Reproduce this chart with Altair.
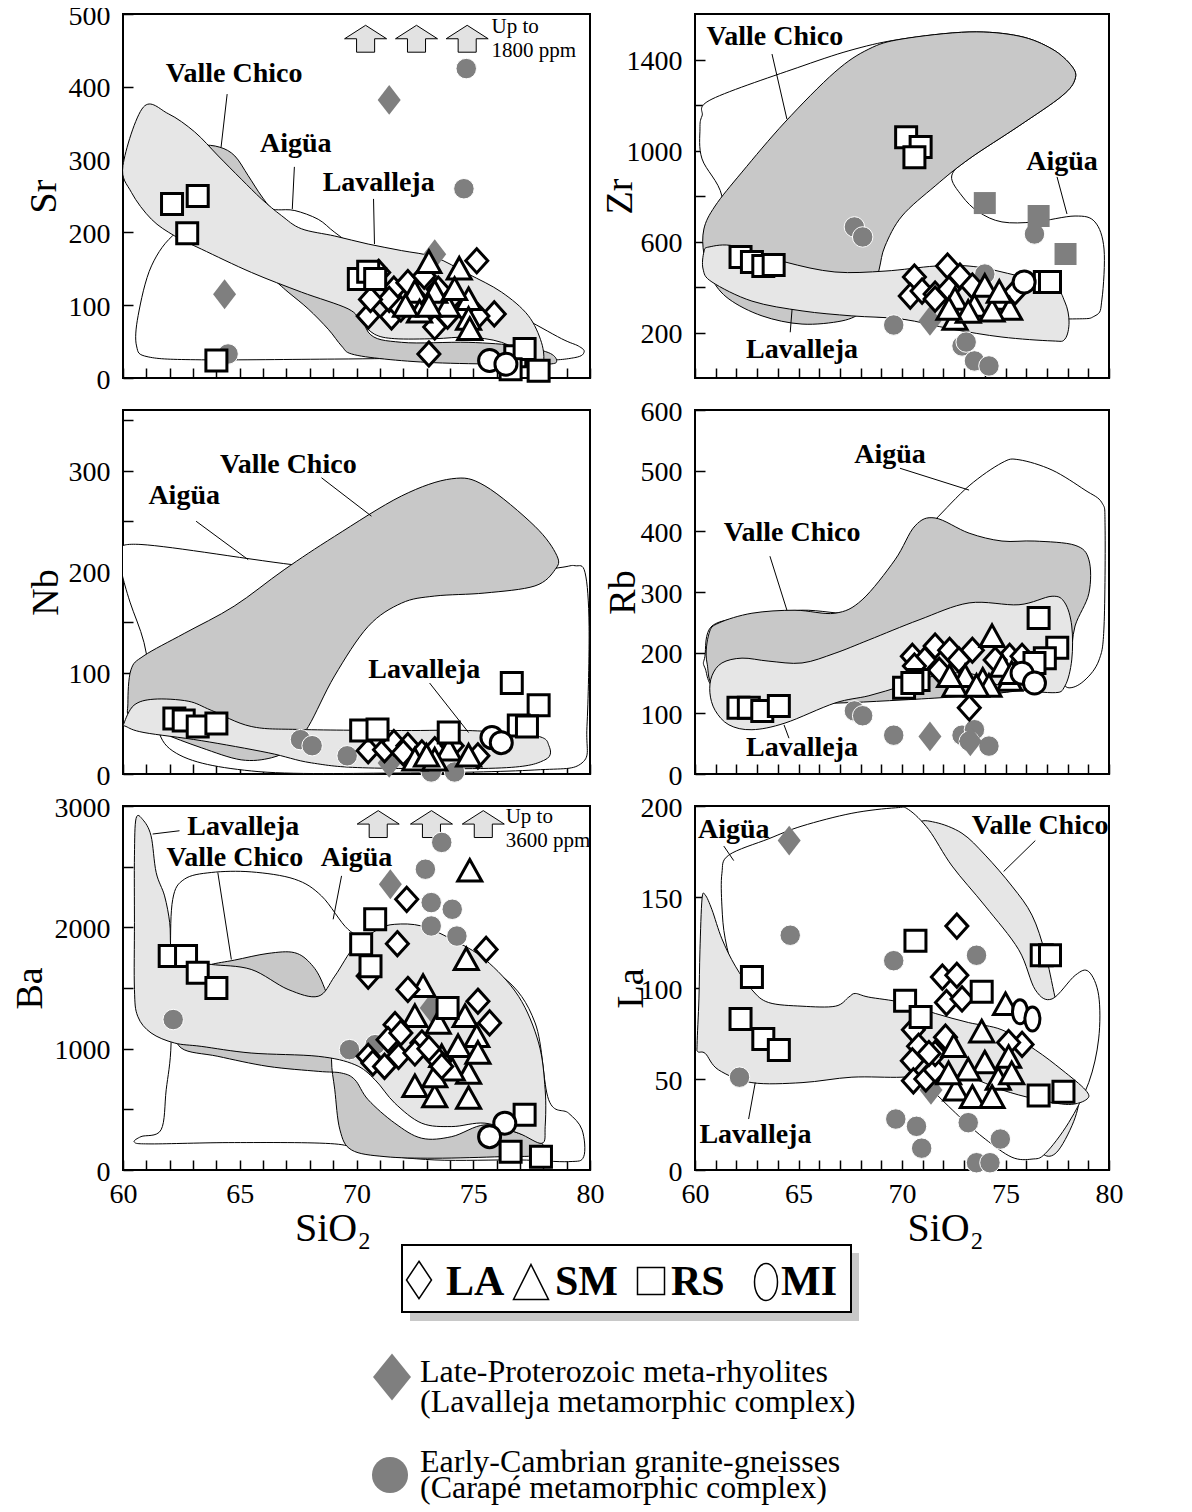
import altair as alt
import pandas as pd

FONT = "Liberation Serif"
W_L, W_R, H = 467, 414, 364
FILL_VC = "#c8c8c8"
FILL_LAV = "#e6e6e6"
FILL_AIG = "#ffffff"
SYM_GRAY = "#7f7f7f"
ARROW_FILL = "#e2e2e2"

X_TICKS = list(range(60, 81))
X_LABELED = [60, 65, 70, 75, 80]
SIO2 = "SiO\u2082"

# ---------------- Sr ----------------
SR_Y_TICKS = [0, 100, 200, 300, 400, 500]
SR_AIG_X = [66.65, 67.36, 68.36, 69.07, 69.93, 71.93, 74.78, 76.93, 78.78, 79.5, 79.75, 79.35, 77.64, 73.35, 69.07, 63.36, 61.08, 60.58, 60.65, 61.22, 62.29, 64.08, 65.5, 66.22]
SR_AIG_Y = [231, 230, 218, 200, 182, 154, 118, 86, 54, 44, 36, 28, 24, 27, 26, 25, 29, 44, 86, 154, 200, 228, 237, 232]
SR_VC_X = [63.36, 64.15, 64.79, 65.36, 65.93, 66.5, 67.64, 69.07, 70.21, 70.5, 71.93, 74.78, 76.93, 78.21, 78.57, 78.21, 76.21, 73.35, 71.21, 69.79, 69.36, 68.79, 67.93, 67.07, 66.22, 64.79, 63.36, 62.65, 62.93]
SR_VC_Y = [319, 317, 305, 278, 250, 228, 200, 163, 118, 63, 49, 49, 44, 35, 24, 19, 19, 21, 26, 33, 44, 67, 95, 118, 141, 173, 209, 264, 305]
SR_LAV_X = [60.0, 60.87, 61.94, 63.07, 64.08, 65.07, 65.93, 66.79, 67.64, 69.07, 70.5, 71.93, 73.35, 74.78, 76.21, 77.35, 77.92, 78.0, 77.64, 76.21, 74.78, 73.35, 71.64, 70.78, 70.21, 69.64, 67.64, 65.5, 63.36, 62.22, 61.22, 60.36]
SR_LAV_Y = [292, 372, 363, 338, 305, 273, 246, 223, 205, 195, 184, 175, 166, 143, 118, 86, 49, 22, 26, 49, 56, 54, 54, 60, 77, 95, 118, 145, 177, 195, 218, 255]
SR_LBL = ["Valle Chico", "Aigüa", "Lavalleja"]
SR_LBL_X = [64.76, 67.4, 70.95]
SR_LBL_Y = [418, 321, 268]
SR_LEAD_X = [64.46, 67.34, 70.73]
SR_LEAD_Y = [390, 290, 246]
SR_LEAD_X2 = [64.2, 67.25, 70.77]
SR_LEAD_Y2 = [317, 232, 184]
SR_ARROW_X = [70.39, 72.57, 74.74]
SR_ARROW_Y = [466, 466, 466]
SR_UP = ["Up to", "1800 ppm"]
SR_UP_X = [75.78, 75.78]
SR_UP_Y = [482, 449]
SR_RS_X = [62.1, 63.2, 62.75, 64.0, 70.1, 70.5, 70.8, 76.8, 77.2, 76.6, 77.8]
SR_RS_Y = [239, 250, 199, 24, 136, 146, 136, 30, 40, 12, 10]
SR_MI_X = [75.7, 76.4]
SR_MI_Y = [24, 19]
SR_LA_X = [75.15, 73.1, 73.35, 70.5, 71.5, 75.9, 70.95, 71.6, 71.4, 71.9, 72.2, 72.6, 73.5, 73.9, 74.6, 75.2, 72.9, 70.6]
SR_LA_Y = [161, 33, 70, 85, 84, 88, 145, 122, 108, 95, 131, 108, 122, 85, 95, 85, 140, 108]
SR_SM_X = [73.1, 74.4, 72.5, 74.8, 72.7, 73.9, 74.8, 74.85, 73.35, 74.2, 72.1, 73.1]
SR_SM_Y = [159, 150, 118, 108, 91, 99, 81, 67, 118, 122, 99, 99]
SR_GD_X = [71.4, 64.35, 73.35]
SR_GD_Y = [382, 115, 170]
SR_GC_X = [74.7, 74.6, 64.5]
SR_GC_Y = [425, 260, 33]

# ---------------- Zr ----------------
ZR_Y_TICKS = [200, 400, 600, 800, 1000, 1200, 1400]
ZR_Y_LABELED = [200, 600, 1000, 1400]
ZR_AIG_X = [61.3, 60.34, 60.24, 60.34, 60.82, 65.17, 67.73, 70.0, 73.24, 75.65, 77.25, 78.2, 78.36, 77.73, 75.65, 73.24, 72.4, 72.9, 73.7, 74.83, 76.42, 78.36, 79.32, 79.76, 79.66, 79.32, 77.73, 70.0, 65.17, 61.3]
ZR_AIG_Y = [800, 963, 1095, 1152, 1226, 1371, 1446, 1490, 1521, 1503, 1446, 1371, 1314, 1240, 1108, 963, 888, 800, 730, 686, 686, 712, 686, 567, 347, 273, 259, 259, 347, 567]
ZR_VC_X = [60.43, 60.97, 62.27, 64.35, 66.76, 68.4, 70.0, 73.24, 75.65, 77.25, 78.2, 78.36, 77.73, 75.65, 73.24, 71.6, 70.0, 69.18, 68.9, 68.55, 68.07, 67.1, 65.17, 63.24, 61.64, 60.82, 60.43]
ZR_VC_Y = [655, 756, 905, 1125, 1345, 1446, 1490, 1521, 1503, 1446, 1371, 1314, 1240, 1108, 963, 844, 712, 580, 479, 347, 290, 251, 237, 273, 347, 435, 545]
ZR_LAV_X = [60.43, 60.68, 61.93, 64.35, 66.76, 69.18, 71.6, 73.24, 74.83, 77.25, 77.87, 78.07, 77.87, 77.25, 74.83, 72.4, 70.0, 67.58, 65.17, 62.75, 60.82, 60.39]
ZR_LAV_Y = [554, 576, 580, 510, 466, 470, 492, 492, 466, 404, 334, 246, 171, 163, 180, 215, 259, 273, 295, 338, 422, 479]
ZR_LBL = ["Valle Chico", "Aigüa", "Lavalleja"]
ZR_LBL_X = [63.86, 77.73, 65.17]
ZR_LBL_Y = [1499, 949, 123]
ZR_LEAD_X = [63.72, 77.49, 64.6]
ZR_LEAD_Y = [1424, 884, 201]
ZR_LEAD_X2 = [64.44, 77.97, 64.69]
ZR_LEAD_Y2 = [1138, 721, 303]
ZR_RS_X = [70.2, 70.9, 70.6, 62.2, 62.75, 63.3, 63.8, 76.9, 77.15]
ZR_RS_Y = [1058, 1015, 970, 532, 510, 492, 497, 422, 422]
ZR_MI_X = [75.9]
ZR_MI_Y = [422]
ZR_LA_X = [70.6, 72.2, 72.8, 70.4, 70.97, 71.6, 73.4, 72.27, 75.46, 71.6]
ZR_LA_Y = [444, 492, 448, 360, 382, 369, 404, 391, 378, 347]
ZR_SM_X = [72.56, 74.0, 74.83, 73.5, 72.56, 75.2, 74.35, 73.2, 72.27, 74.7]
ZR_SM_Y = [259, 404, 347, 316, 347, 303, 295, 290, 303, 378]
ZR_GS_X = [74.0, 76.6, 77.9]
ZR_GS_Y = [769, 712, 545]
ZR_GC_X = [67.7, 68.1, 76.4, 69.6, 72.9, 73.1, 73.5, 74.2, 74.0]
ZR_GC_Y = [664, 620, 633, 233, 141, 158, 75, 53, 457]
ZR_GD_X = [71.35]
ZR_GD_Y = [251]

# ---------------- Nb ----------------
NB_Y_TICKS = [0, 50, 100, 150, 200, 250, 300, 350]
NB_Y_LABELED = [0, 100, 200, 300]
NB_AIG_X = [59.9, 60.77, 67.64, 71.93, 76.22, 78.67, 79.36, 79.79, 79.96, 79.87, 79.66, 77.64, 71.93, 65.5, 62.0, 61.3, 60.9, 60.3, 59.95]
NB_AIG_Y = [216, 227, 206, 199, 197, 204, 206, 199, 146, 47, 11, 4, 1, 3, 25, 80, 130, 170, 199]
NB_VC_X = [60.21, 60.34, 60.9, 62.62, 64.76, 66.9, 69.06, 71.93, 74.08, 75.5, 77.64, 78.58, 78.5, 77.64, 75.5, 73.35, 71.93, 70.5, 69.06, 67.94, 67.2, 66.35, 65.06, 63.35, 61.63, 60.34]
NB_VC_Y = [70, 103, 117, 139, 166, 202, 235, 275, 292, 285, 245, 216, 202, 186, 179, 176, 169, 146, 97, 47, 26, 16, 14, 26, 41, 55]
NB_LAV_X = [60.04, 60.47, 61.33, 62.79, 63.78, 65.49, 67.64, 71.93, 74.8, 77.64, 78.24, 78.07, 76.2, 70.5, 68.07, 66.22, 63.35, 60.9, 60.13]
NB_LAV_Y = [50, 68, 74, 72, 63, 47, 44, 43, 43, 38, 28, 14, 6, 6, 11, 21, 33, 41, 47]
NB_LBL = ["Valle Chico", "Aigüa", "Lavalleja"]
NB_LBL_X = [67.08, 62.62, 72.9]
NB_LBL_Y = [306, 275, 103]
NB_LEAD_X = [68.5, 63.13, 73.13]
NB_LEAD_Y = [293, 250, 90]
NB_LEAD_X2 = [70.64, 65.36, 74.8]
NB_LEAD_Y2 = [255, 212, 41]
NB_RS_X = [62.2, 62.6, 63.2, 64.0, 70.2, 70.9, 73.95, 76.65, 77.8, 76.95, 77.3]
NB_RS_Y = [55, 53, 47, 50, 43, 44, 41, 90, 68, 48, 47]
NB_MI_X = [75.8, 76.2]
NB_MI_Y = [36, 31]
NB_LA_X = [70.5, 71.2, 71.6, 72.2, 72.8, 73.35, 74.1, 75.2, 72.0]
NB_LA_Y = [23, 24, 31, 28, 21, 24, 28, 18, 21]
NB_SM_X = [72.5, 73.95, 74.8, 73.35, 73.0]
NB_SM_Y = [14, 24, 18, 14, 18]
NB_GC_X = [67.6, 68.1, 69.6, 73.2, 74.2]
NB_GC_Y = [34, 28, 18, 2, 2]
NB_GD_X = [71.4]
NB_GD_Y = [11]

# ---------------- Rb ----------------
RB_Y_TICKS = [0, 100, 200, 300, 400, 500, 600]
RB_AIG_X = [60.48, 60.82, 62.75, 65.17, 67.58, 68.4, 69.66, 70.63, 71.6, 73.24, 74.83, 75.65, 77.25, 78.84, 79.66, 79.81, 79.76, 79.52, 78.84, 78.07, 77.25, 74.83, 70.0, 65.17, 61.3, 60.48]
RB_AIG_Y = [194, 244, 260, 270, 265, 287, 343, 386, 419, 475, 513, 518, 501, 468, 447, 409, 244, 188, 155, 142, 155, 134, 125, 117, 134, 175]
RB_VC_X = [60.68, 61.16, 62.75, 64.83, 66.76, 68.07, 69.66, 70.63, 71.6, 73.24, 74.83, 76.42, 78.36, 79.03, 79.03, 78.36, 78.07, 77.25, 74.83, 70.0, 65.17, 61.3, 60.58]
RB_VC_Y = [232, 249, 265, 270, 265, 287, 353, 409, 422, 397, 384, 384, 377, 353, 298, 244, 188, 150, 134, 122, 117, 134, 183]
RB_LAV_X = [60.82, 61.3, 62.27, 63.57, 65.17, 66.76, 68.4, 70.82, 73.24, 75.65, 77.25, 77.87, 78.2, 78.2, 77.87, 77.25, 74.83, 73.24, 71.6, 70.0, 68.4, 66.76, 64.35, 62.75, 61.64, 60.97, 60.72]
RB_LAV_Y = [162, 183, 191, 186, 183, 199, 221, 254, 282, 279, 293, 282, 244, 188, 145, 134, 145, 166, 162, 145, 129, 117, 84, 73, 81, 105, 134]
RB_LBL = ["Aigüa", "Valle Chico", "Lavalleja"]
RB_LBL_X = [69.42, 64.69, 65.17]
RB_LBL_Y = [526, 397, 43]
RB_LEAD_X = [69.9, 63.62, 64.54]
RB_LEAD_Y = [504, 359, 59]
RB_LEAD_X2 = [73.24, 64.44, 64.3]
RB_LEAD_Y2 = [468, 270, 81]
RB_RS_X = [62.1, 62.6, 63.25, 64.05, 76.6, 77.5, 76.9, 76.4, 70.1, 70.8, 70.5]
RB_RS_Y = [109, 109, 104, 112, 257, 208, 191, 183, 142, 155, 150]
RB_MI_X = [75.8, 76.4]
RB_MI_Y = [166, 150]
RB_LA_X = [70.5, 71.6, 72.3, 73.4, 72.75, 71.8, 73.25, 75.2, 75.8, 71.1, 70.6, 74.5]
RB_LA_Y = [194, 211, 204, 204, 188, 171, 109, 194, 194, 188, 178, 188]
RB_SM_X = [74.35, 73.05, 73.9, 72.55, 74.85, 75.2, 72.3, 74.2, 73.6, 75.3]
RB_SM_Y = [227, 161, 155, 145, 178, 155, 161, 145, 145, 166]
RB_GC_X = [67.7, 68.1, 69.6, 72.9, 73.5, 73.25, 74.2]
RB_GC_Y = [104, 96, 64, 64, 73, 54, 46]
RB_GD_X = [71.35, 73.3]
RB_GD_Y = [62, 54]

# ---------------- Ba ----------------
BA_Y_TICKS = [0, 500, 1000, 1500, 2000, 2500, 3000]
BA_Y_LABELED = [0, 1000, 2000, 3000]
BA_AIG_X = [62.06, 62.03, 62.13, 62.63, 63.78, 65.49, 67.35, 68.5, 69.64, 70.5, 73.36, 76.22, 77.65, 78.23, 79.08, 79.66, 79.73, 79.08, 76.94, 73.36, 70.5, 69.07, 64.78, 61.2, 60.49, 60.77, 61.63, 61.85]
BA_AIG_Y = [1047, 1763, 2231, 2397, 2452, 2457, 2397, 2259, 1983, 1928, 1846, 1598, 1212, 579, 469, 331, 110, 69, 83, 83, 138, 215, 226, 215, 229, 275, 331, 661]
BA_VC_X = [63.78, 64.78, 66.21, 67.35, 68.07, 68.57, 69.07, 68.93, 69.07, 69.29, 69.79, 71.22, 73.36, 76.22, 77.8, 77.94, 76.94, 75.5, 74.08, 72.79, 71.64, 70.5, 69.93, 69.36, 68.36, 66.21, 64.06, 62.49, 62.2, 62.63, 63.35]
BA_VC_Y = [1694, 1730, 1785, 1791, 1694, 1529, 1212, 909, 661, 331, 165, 110, 97, 110, 124, 220, 303, 372, 275, 262, 386, 579, 744, 799, 813, 854, 937, 1006, 1212, 1488, 1653]
BA_LAV_X = [60.56, 60.85, 61.2, 61.42, 61.78, 62.0, 62.04, 62.15, 62.78, 63.78, 65.49, 67.07, 68.36, 69.07, 69.93, 70.93, 71.64, 72.79, 74.08, 75.5, 76.94, 77.8, 78.08, 78.08, 77.94, 76.94, 75.5, 74.08, 72.79, 71.64, 70.79, 69.93, 68.36, 65.49, 63.35, 62.2, 61.2, 60.63, 60.49, 60.49, 60.49]
BA_LAV_Y = [2898, 2887, 2755, 2452, 2259, 2039, 1846, 1735, 1722, 1694, 1653, 1488, 1432, 1598, 1846, 1983, 2025, 2011, 1901, 1736, 1432, 1047, 661, 358, 220, 303, 386, 358, 386, 551, 744, 868, 937, 964, 1019, 1047, 1130, 1267, 1488, 2039, 2590]
BA_LBL = ["Lavalleja", "Valle Chico", "Aigüa"]
BA_LBL_X = [65.15, 64.79, 70.0]
BA_LBL_Y = [2824, 2570, 2570]
BA_LEAD_X = [62.42, 64.06, 69.36]
BA_LEAD_Y = [2796, 2452, 2424]
BA_LEAD_X2 = [61.27, 64.64, 69.0]
BA_LEAD_Y2 = [2769, 1735, 2066]
BA_ARROW_X = [70.93, 73.21, 75.43]
BA_ARROW_Y = [2851, 2851, 2851]
BA_UP = ["Up to", "3600 ppm"]
BA_UP_X = [76.39, 76.39]
BA_UP_Y = [2906, 2713]
BA_RS_X = [62.0, 62.7, 63.2, 64.0, 70.8, 70.2, 70.6, 73.9, 77.2, 76.6, 77.9]
BA_RS_Y = [1763, 1763, 1625, 1501, 2066, 1860, 1680, 1336, 455, 151, 110]
BA_MI_X = [76.35, 75.7]
BA_MI_Y = [386, 275]
BA_LA_X = [72.15, 71.75, 75.55, 70.5, 72.2, 75.2, 75.7, 71.65, 71.35, 70.5, 70.7, 71.2, 71.8, 71.9, 72.8, 72.5, 73.35, 73.65, 73.1]
BA_LA_Y = [2231, 1865, 1818, 1598, 1488, 1391, 1212, 1198, 1074, 937, 882, 854, 937, 1130, 1047, 964, 937, 854, 1000]
BA_SM_X = [74.85, 74.7, 72.85, 72.5, 73.5, 74.65, 75.15, 74.35, 73.65, 74.8, 72.5, 73.35, 74.8, 75.2, 74.1, 73.35]
BA_SM_Y = [2465, 1736, 1515, 1267, 1212, 1267, 1102, 1019, 937, 799, 689, 606, 592, 964, 826, 771]
BA_GD_X = [71.45, 73.2]
BA_GD_Y = [2355, 1336]
BA_GC_X = [73.65, 72.95, 73.2, 74.1, 73.2, 74.3, 62.15, 69.7, 70.8]
BA_GC_Y = [2700, 2479, 2204, 2149, 2011, 1928, 1240, 992, 1033]

# ---------------- La ----------------
LA_Y_TICKS = [0, 50, 100, 150, 200]
LA_VC_X = [70.81, 71.61, 72.9, 74.02, 75.31, 76.28, 76.92, 77.41, 78.05, 78.54, 78.37, 77.57, 76.92, 76.44, 74.83, 73.22, 71.61, 70.97]
LA_VC_Y = [190, 191, 185, 173, 156, 140, 119, 94, 62, 44, 29, 11, 8, 17, 44, 81, 136, 173]
LA_AIG_X = [61.3, 61.63, 63.56, 65.17, 67.58, 69.68, 70.32, 71.29, 72.42, 74.02, 75.64, 76.44, 77.25, 78.37, 79.02, 79.5, 79.5, 79.02, 78.05, 76.92, 76.28, 75.31, 74.02, 72.9, 71.45, 69.03, 66.6, 65.17, 64.04, 62.91, 61.95, 61.46, 61.3]
LA_AIG_Y = [163, 173, 182, 189, 196, 199, 198, 187, 167, 145, 121, 99, 94, 107, 109, 96, 72, 48, 26, 9, 6, 7, 17, 28, 44, 72, 85, 83, 83, 88, 107, 127, 145]
LA_LAV_X = [60.34, 60.5, 60.82, 61.3, 61.95, 62.75, 63.56, 65.17, 66.78, 67.43, 67.74, 68.39, 70.0, 71.61, 73.22, 74.83, 76.44, 77.73, 78.86, 78.94, 78.05, 76.44, 74.83, 73.22, 71.61, 70.0, 67.58, 65.17, 62.75, 61.14, 60.5, 60.14, 60.1, 60.19, 60.24]
LA_LAV_Y = [149, 151, 143, 127, 112, 99, 92, 90, 90, 95, 97, 95, 92, 86, 81, 77, 66, 55, 44, 39, 36, 39, 44, 51, 53, 51, 51, 48, 48, 55, 64, 65, 69, 94, 121]
LA_LBL = ["Aigüa", "Valle Chico", "Lavalleja"]
LA_LBL_X = [61.87, 76.67, 62.92]
LA_LBL_Y = [187, 189, 19]
LA_LEAD_X = [61.39, 76.44, 62.59]
LA_LEAD_Y = [178, 181, 28]
LA_LEAD_X2 = [61.87, 74.91, 62.91]
LA_LEAD_Y2 = [170, 164, 48]
LA_RS_X = [70.65, 62.75, 62.2, 63.3, 64.05, 70.15, 70.9, 73.85, 76.75, 77.15, 76.6, 77.8]
LA_RS_Y = [126, 106, 83, 72, 66, 93, 84, 98, 118, 118, 41, 43]
LA_MI_X = [75.7, 76.3]
LA_MI_Y = [87, 83]
LA_LA_X = [72.65, 71.95, 72.65, 72.15, 72.9, 70.55, 70.8, 70.5, 70.55, 71.15, 71.6, 72.1, 71.6, 75.8, 75.15, 71.3]
LA_LA_Y = [134, 106, 107, 92, 94, 77, 68, 60, 49, 50, 55, 73, 64, 69, 70, 64]
LA_SM_X = [75.0, 73.85, 72.5, 75.15, 74.0, 74.65, 72.6, 73.4, 74.35, 73.2, 72.25, 75.3]
LA_SM_Y = [91, 76, 68, 62, 59, 50, 44, 40, 40, 55, 53, 53]
LA_GD_X = [64.55, 71.4]
LA_GD_Y = [181, 44]
LA_GC_X = [64.6, 62.15, 69.6, 69.7, 70.7, 70.95, 73.6, 73.2, 74.75, 73.6, 74.25]
LA_GC_Y = [129, 51, 115, 28, 24, 12, 118, 26, 17, 4, 4]

# ---------------- legend ----------------
LEGEND_CODES = ["LA", "SM", "RS", "MI"]
LEGEND_NOTE_1 = ["Late-Proterozoic meta-rhyolites", "(Lavalleja metamorphic complex)"]
LEGEND_NOTE_2 = ["Early-Cambrian granite-gneisses", "(Carapé metamorphic complex)"]

# ---------------- styles ----------------
DIAMOND = "M0,-1.1L1,0L0,1.1L-1,0Z"
DIAMOND_TALL = "M0,-1.3L1,0L0,1.3L-1,0Z"
TRIANGLE = "M0,-0.95L1,0.85L-1,0.85Z"
ARROW = "M0,-0.64L1,0L0.43,0L0.43,0.64L-0.43,0.64L-0.43,0L-1,0Z"
ELLIPSE = ("M0,-1.6C0.55,-1.6,1,-0.9,1,0C1,0.9,0.55,1.6,0,1.6"
           "C-0.55,1.6,-1,0.9,-1,0C-1,-0.9,-0.55,-1.6,0,-1.6Z")

STYLE = {
    "gc": dict(shape="circle", size=420, fill=SYM_GRAY, stroke="white", strokeWidth=1),
    "gd": dict(shape=DIAMOND_TALL, size=529, fill=SYM_GRAY, strokeWidth=0),
    "gs": dict(shape="square", size=484, fill=SYM_GRAY, strokeWidth=0),
    "la": dict(shape=DIAMOND, size=484, fill="white", stroke="black", strokeWidth=3),
    "sm": dict(shape=TRIANGLE, size=576, fill="white", stroke="black", strokeWidth=3),
    "rs": dict(shape="square", size=441, fill="white", stroke="black", strokeWidth=3),
    "mi": dict(shape="circle", size=484, fill="white", stroke="black", strokeWidth=3),
    "mie": dict(shape=ELLIPSE, size=225, fill="white", stroke="black", strokeWidth=3),
}


def x_axis(show, title_x):
    kw = dict(values=X_TICKS, format="d",
              labelExpr="indexof(%s, datum.value) >= 0 ? datum.label : ''" % X_LABELED,
              labels=show, labelFont=FONT, labelFontSize=28, labelColor="black",
              labelPadding=10, labelFlush=False, labelOverlap=False,
              domain=False, grid=False, ticks=True, tickSize=10, tickWidth=1.5,
              tickColor="black", offset=-10)
    if show:
        kw.update(title=SIO2, titleFont=FONT, titleFontSize=40, titleFontWeight="normal",
                  titleColor="black", titleX=title_x, titleY=80, titleAlign="center",
                  titleBaseline="alphabetic")
    else:
        kw.update(title=None)
    return alt.Axis(**kw)


def y_axis(ticks, labeled, title, title_x):
    return alt.Axis(values=ticks, format="d",
                    labelExpr="indexof(%s, datum.value) >= 0 ? datum.label : ''" % labeled,
                    labelFont=FONT, labelFontSize=28, labelColor="black", labelPadding=13,
                    labelOffset=2,
                    labelFlush=False, labelOverlap=False, domain=False, grid=False,
                    tickSize=10, tickWidth=1.5, tickColor="black", offset=-10,
                    title=title, titleFont=FONT, titleFontSize=38, titleFontWeight="normal",
                    titleColor="black", titleX=title_x, titleY=H / 2, titleAngle=270,
                    titleAlign="center", titleBaseline="middle")


def panel(width, ymax, yticks, ylabeled, ytitle, ytitle_x, show_x, xtitle_x,
          polys, lbl, lbl_x, lbl_y, lead, points, arrows=None, up=None):
    X = alt.X("x:Q", scale=alt.Scale(domain=[60, 80], nice=False, zero=False),
              axis=x_axis(show_x, xtitle_x))
    Y = alt.Y("y:Q", scale=alt.Scale(domain=[0, ymax], nice=False, zero=False),
              axis=y_axis(yticks, ylabeled, ytitle, ytitle_x))
    layers = []
    for xs, ys, fill in polys:
        df = pd.DataFrame({"x": xs, "y": ys, "i": list(range(len(xs)))})
        layers.append(alt.Chart(df).mark_line(interpolate="cardinal-closed", fill=fill,
                                              stroke="black", strokeWidth=1, clip=True)
                      .encode(x=X, y=Y, order="i:Q"))
    ldf = pd.DataFrame({"x": lead[0], "y": lead[1], "x2": lead[2], "y2": lead[3]})
    layers.append(alt.Chart(ldf).mark_rule(color="black", strokeWidth=1)
                  .encode(x=X, y=Y, x2="x2:Q", y2="y2:Q"))
    tdf = pd.DataFrame({"x": lbl_x, "y": lbl_y, "t": lbl})
    layers.append(alt.Chart(tdf).mark_text(font=FONT, fontSize=28, fontWeight="bold",
                                           color="black", baseline="middle")
                  .encode(x=X, y=Y, text="t:N"))
    if arrows is not None:
        adf = pd.DataFrame({"x": arrows[0], "y": arrows[1]})
        layers.append(alt.Chart(adf).mark_point(shape=ARROW, size=1764, filled=True,
                                                fill=ARROW_FILL, stroke="black",
                                                strokeWidth=1, opacity=1)
                      .encode(x=X, y=Y))
    if up is not None:
        udf = pd.DataFrame({"x": up[1], "y": up[2], "t": up[0]})
        layers.append(alt.Chart(udf).mark_text(font=FONT, fontSize=21, color="black",
                                               align="left", baseline="middle")
                      .encode(x=X, y=Y, text="t:N"))
    for xs, ys, kind in points:
        pdf = pd.DataFrame({"x": xs, "y": ys})
        layers.append(alt.Chart(pdf).mark_point(filled=True, opacity=1, **STYLE[kind])
                      .encode(x=X, y=Y))
    return alt.layer(*layers).properties(width=width, height=H)


sr = panel(W_L, 500, SR_Y_TICKS, SR_Y_TICKS, "Sr", -88.5, False, 0,
           [(SR_AIG_X, SR_AIG_Y, FILL_AIG), (SR_VC_X, SR_VC_Y, FILL_VC), (SR_LAV_X, SR_LAV_Y, FILL_LAV)],
           SR_LBL, SR_LBL_X, SR_LBL_Y, (SR_LEAD_X, SR_LEAD_Y, SR_LEAD_X2, SR_LEAD_Y2),
           [(SR_GC_X, SR_GC_Y, "gc"), (SR_GD_X, SR_GD_Y, "gd"), (SR_LA_X, SR_LA_Y, "la"),
            (SR_SM_X, SR_SM_Y, "sm"), (SR_RS_X, SR_RS_Y, "rs"), (SR_MI_X, SR_MI_Y, "mi")],
           arrows=(SR_ARROW_X, SR_ARROW_Y), up=(SR_UP, SR_UP_X, SR_UP_Y))

zr = panel(W_R, 1600, ZR_Y_TICKS, ZR_Y_LABELED, "Zr", -84.3, False, 0,
           [(ZR_AIG_X, ZR_AIG_Y, FILL_AIG), (ZR_VC_X, ZR_VC_Y, FILL_VC), (ZR_LAV_X, ZR_LAV_Y, FILL_LAV)],
           ZR_LBL, ZR_LBL_X, ZR_LBL_Y, (ZR_LEAD_X, ZR_LEAD_Y, ZR_LEAD_X2, ZR_LEAD_Y2),
           [(ZR_GC_X, ZR_GC_Y, "gc"), (ZR_GD_X, ZR_GD_Y, "gd"), (ZR_GS_X, ZR_GS_Y, "gs"),
            (ZR_LA_X, ZR_LA_Y, "la"), (ZR_SM_X, ZR_SM_Y, "sm"), (ZR_RS_X, ZR_RS_Y, "rs"),
            (ZR_MI_X, ZR_MI_Y, "mi")])

nb = panel(W_L, 360, NB_Y_TICKS, NB_Y_LABELED, "Nb", -86.5, False, 0,
           [(NB_AIG_X, NB_AIG_Y, FILL_AIG), (NB_VC_X, NB_VC_Y, FILL_VC), (NB_LAV_X, NB_LAV_Y, FILL_LAV)],
           NB_LBL, NB_LBL_X, NB_LBL_Y, (NB_LEAD_X, NB_LEAD_Y, NB_LEAD_X2, NB_LEAD_Y2),
           [(NB_GC_X, NB_GC_Y, "gc"), (NB_GD_X, NB_GD_Y, "gd"), (NB_LA_X, NB_LA_Y, "la"),
            (NB_SM_X, NB_SM_Y, "sm"), (NB_RS_X, NB_RS_Y, "rs"), (NB_MI_X, NB_MI_Y, "mi")])

rb = panel(W_R, 600, RB_Y_TICKS, RB_Y_TICKS, "Rb", -81.3, False, 0,
           [(RB_AIG_X, RB_AIG_Y, FILL_AIG), (RB_VC_X, RB_VC_Y, FILL_VC), (RB_LAV_X, RB_LAV_Y, FILL_LAV)],
           RB_LBL, RB_LBL_X, RB_LBL_Y, (RB_LEAD_X, RB_LEAD_Y, RB_LEAD_X2, RB_LEAD_Y2),
           [(RB_GC_X, RB_GC_Y, "gc"), (RB_GD_X, RB_GD_Y, "gd"), (RB_LA_X, RB_LA_Y, "la"),
            (RB_SM_X, RB_SM_Y, "sm"), (RB_RS_X, RB_RS_Y, "rs"), (RB_MI_X, RB_MI_Y, "mi")])

ba = panel(W_L, 3000, BA_Y_TICKS, BA_Y_LABELED, "Ba", -102.5, True, 209.5,
           [(BA_AIG_X, BA_AIG_Y, FILL_AIG), (BA_VC_X, BA_VC_Y, FILL_VC), (BA_LAV_X, BA_LAV_Y, FILL_LAV)],
           BA_LBL, BA_LBL_X, BA_LBL_Y, (BA_LEAD_X, BA_LEAD_Y, BA_LEAD_X2, BA_LEAD_Y2),
           [(BA_GC_X, BA_GC_Y, "gc"), (BA_GD_X, BA_GD_Y, "gd"), (BA_SM_X, BA_SM_Y, "sm"),
            (BA_LA_X, BA_LA_Y, "la"), (BA_RS_X, BA_RS_Y, "rs"), (BA_MI_X, BA_MI_Y, "mi")],
           arrows=(BA_ARROW_X, BA_ARROW_Y), up=(BA_UP, BA_UP_X, BA_UP_Y))

la = panel(W_R, 200, LA_Y_TICKS, LA_Y_TICKS, "La", -73.3, True, 250,
           [(LA_VC_X, LA_VC_Y, FILL_LAV), (LA_AIG_X, LA_AIG_Y, FILL_AIG), (LA_LAV_X, LA_LAV_Y, FILL_LAV)],
           LA_LBL, LA_LBL_X, LA_LBL_Y, (LA_LEAD_X, LA_LEAD_Y, LA_LEAD_X2, LA_LEAD_Y2),
           [(LA_GC_X, LA_GC_Y, "gc"), (LA_GD_X, LA_GD_Y, "gd"), (LA_LA_X, LA_LA_Y, "la"),
            (LA_SM_X, LA_SM_Y, "sm"), (LA_RS_X, LA_RS_Y, "rs"), (LA_MI_X, LA_MI_Y, "mie")])


# ---------------- legend chart ----------------
def one(row_text=""):
    return alt.Chart(pd.DataFrame({"t": [row_text]}))


leg = []
leg.append(one().mark_rect(fill="#c8c8c8", strokeWidth=0)
           .encode(x=alt.value(287), x2=alt.value(736), y=alt.value(51), y2=alt.value(119)))
leg.append(one().mark_rect(fill="white", stroke="black", strokeWidth=2)
           .encode(x=alt.value(279), x2=alt.value(728), y=alt.value(43), y2=alt.value(110)))
LEG_SYMS = [("M0,-1.5L1,0L0,1.5L-1,0Z", 625, 296, 78),
            ("M0,-1L1,1L-1,1Z", 1225, 408, 80),
            ("square", 729, 528, 79),
            (ELLIPSE, 529, 643, 80)]
LEG_TEXT_X = [323, 432, 548, 658]
for (shp, sz, sx, sy), code, tx in zip(LEG_SYMS, LEGEND_CODES, LEG_TEXT_X):
    leg.append(one().mark_point(shape=shp, size=sz, filled=True, fill="white", stroke="black",
                                strokeWidth=1.5, opacity=1)
               .encode(x=alt.value(sx), y=alt.value(sy)))
    leg.append(one(code).mark_text(font=FONT, fontSize=42, fontWeight="bold", color="black",
                                   align="left", baseline="alphabetic")
               .encode(x=alt.value(tx), y=alt.value(93), text="t:N"))
leg.append(one().mark_point(shape="M0,-1.24L1,0L0,1.24L-1,0Z", size=1444, filled=True,
                            fill=SYM_GRAY, strokeWidth=0, opacity=1)
           .encode(x=alt.value(269), y=alt.value(175)))
leg.append(one().mark_point(shape="circle", size=1300, filled=True, fill=SYM_GRAY,
                            strokeWidth=0, opacity=1)
           .encode(x=alt.value(267), y=alt.value(273)))
for txt, ty in zip(LEGEND_NOTE_1 + LEGEND_NOTE_2, [180, 210, 270, 296]):
    leg.append(one(txt).mark_text(font=FONT, fontSize=32, color="black", align="left",
                                  baseline="alphabetic")
               .encode(x=alt.value(297), y=alt.value(ty), text="t:N"))
legend = alt.layer(*leg).properties(width=W_L, height=300,
                                    view=alt.ViewBackground(stroke="transparent"))

chart = alt.concat(sr, zr, nb, rb, ba, la, legend, columns=2,
                   spacing={"row": 32, "column": 105}, bounds="flush")
chart = chart.properties(padding={"left": 2, "top": -7, "right": 5, "bottom": 5},
                         background="white").configure_view(stroke="black", strokeWidth=2)

chart.save("out.html", embed_options={"renderer": "svg", "actions": False})
